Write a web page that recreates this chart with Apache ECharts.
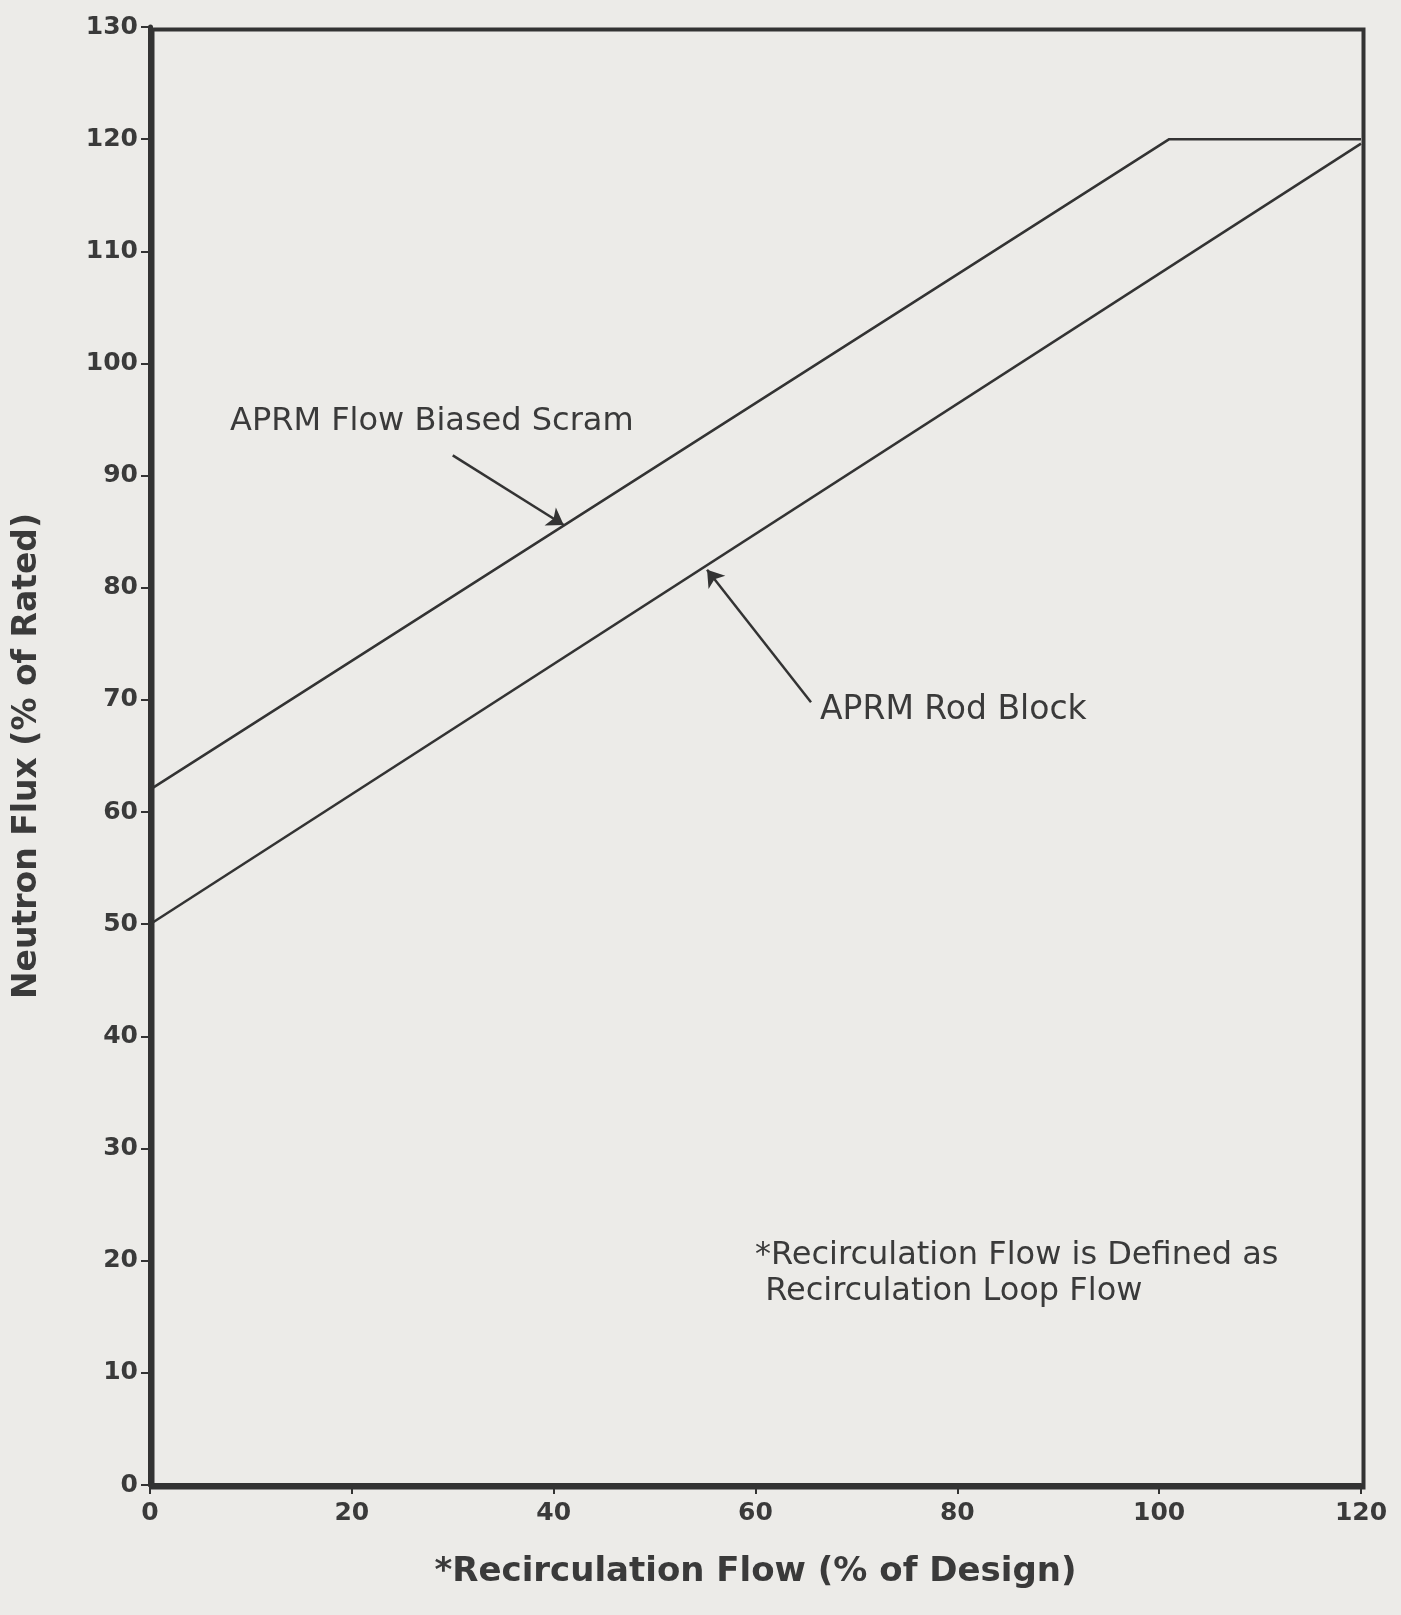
<!DOCTYPE html>
<html>
<head>
    <meta charset="utf-8">
    <title>APRM Flow Biased Limits</title>
    <script src="https://cdn.jsdelivr.net/npm/echarts@6/dist/echarts.min.js"></script>
    <style>
        body { margin: 0; background: #ecebe8; }
    </style>
</head>
<body>
    <div id="main" style="width: 1401px;height:1615px;"></div>
    <script type="text/javascript">
        // values
        var flowScram = [0, 101, 120];
        var fluxScram = [62, 120, 120];
        var flowRod = [0, 120];
        var fluxRod = [50, 119.6];
        // arrow endpoints [flow, flux]
        var scramArrow = [[30, 91.8], [41, 85.6]];
        var rodArrow = [[65.5, 69.8], [55.2, 81.6]];

        var textColor = '#3a3a3a';
        var lineColor = '#333';

        var myChart = echarts.init(document.getElementById('main'));

        function pairs(xs, ys) {
            return xs.map(function (x, i) { return [x, ys[i]]; });
        }

        function arrow(p) {
            return [{ coord: p[0], symbol: 'none' }, { coord: p[1], symbol: 'arrow' }];
        }

        var option = {
            backgroundColor: '#ecebe8',
            animation: false,
            grid: { left: 150, right: 40, top: 27, bottom: 130 },
            xAxis: {
                type: 'value',
                min: 0,
                max: 120,
                interval: 20,
                name: '*Recirculation Flow (% of Design)',
                nameLocation: 'middle',
                nameGap: 70,
                nameTextStyle: { color: textColor, fontSize: 34, fontWeight: 'bold', fontFamily: 'DejaVu Sans' },
                axisLine: { show: true, lineStyle: { color: lineColor, width: 4 } },
                axisTick: { show: true, inside: false, length: 9, lineStyle: { color: lineColor, width: 2 } },
                axisLabel: { color: textColor, fontSize: 25, fontWeight: 'bold', fontFamily: 'DejaVu Sans', margin: 16 },
                splitLine: { show: false }
            },
            yAxis: {
                type: 'value',
                min: 0,
                max: 130,
                interval: 10,
                name: 'Neutron Flux (% of Rated)',
                nameLocation: 'middle',
                nameGap: 106,
                nameTextStyle: { color: textColor, fontSize: 33, fontWeight: 'bold', fontFamily: 'DejaVu Sans' },
                axisLine: { show: true, lineStyle: { color: lineColor, width: 5 } },
                axisTick: { show: true, inside: false, length: 9, lineStyle: { color: lineColor, width: 2 } },
                axisLabel: { color: textColor, fontSize: 25, fontWeight: 'bold', fontFamily: 'DejaVu Sans', margin: 12 },
                splitLine: { show: false }
            },
            graphic: [
                {
                    type: 'rect',
                    left: 150, top: 27,
                    shape: { width: 1211, height: 1458 },
                    style: { fill: 'none', stroke: lineColor, lineWidth: 4 },
                    silent: true
                },
                {
                    type: 'text', left: 230, top: 406,
                    style: { text: 'APRM Flow Biased Scram', fill: textColor, fontSize: 32, fontFamily: 'DejaVu Sans' }
                },
                {
                    type: 'text', left: 820, top: 694,
                    style: { text: 'APRM Rod Block', fill: textColor, fontSize: 33, fontFamily: 'DejaVu Sans' }
                },
                {
                    type: 'text', left: 755, top: 1238,
                    style: {
                        text: '*Recirculation Flow is Defined as\n Recirculation Loop Flow',
                        fill: textColor, fontSize: 32, lineHeight: 36, fontFamily: 'DejaVu Sans'
                    }
                }
            ],
            series: [
                {
                    name: 'APRM Flow Biased Scram',
                    type: 'line',
                    data: pairs(flowScram, fluxScram),
                    symbol: 'none',
                    lineStyle: { color: lineColor, width: 2.5 },
                    markLine: {
                        silent: true,
                        symbolSize: 16,
                        label: { show: false },
                        lineStyle: { color: lineColor, width: 2.5, type: 'solid' },
                        data: [arrow(scramArrow)]
                    }
                },
                {
                    name: 'APRM Rod Block',
                    type: 'line',
                    data: pairs(flowRod, fluxRod),
                    symbol: 'none',
                    lineStyle: { color: lineColor, width: 2.5 },
                    markLine: {
                        silent: true,
                        symbolSize: 16,
                        label: { show: false },
                        lineStyle: { color: lineColor, width: 2.5, type: 'solid' },
                        data: [arrow(rodArrow)]
                    }
                }
            ]
        };

        myChart.setOption(option);
    </script>
</body>
</html>
